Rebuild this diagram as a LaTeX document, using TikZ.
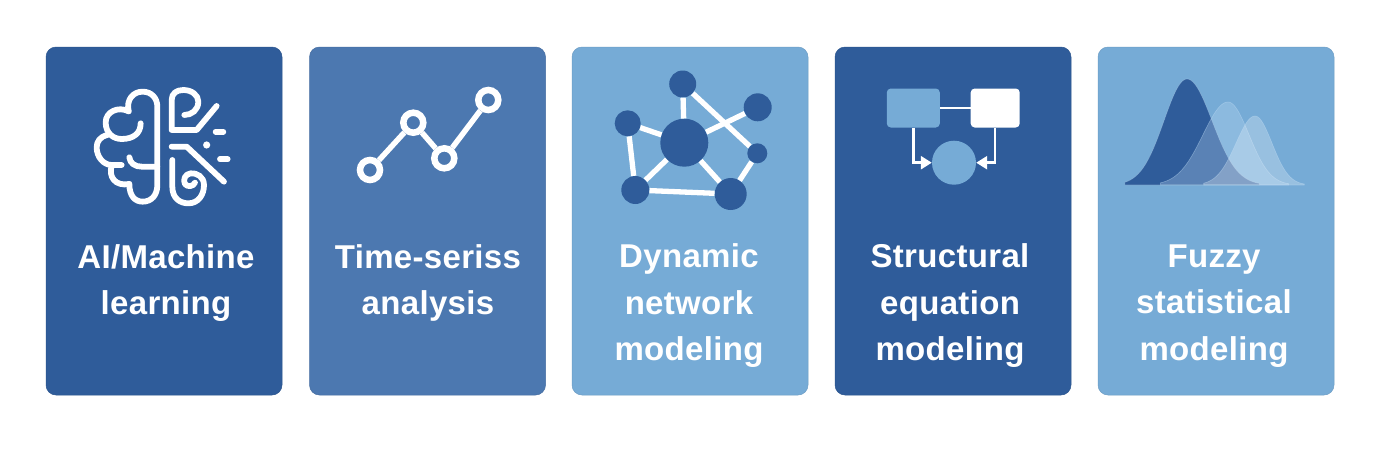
\documentclass[tikz,border=0pt]{standalone}
\usepackage{fontspec}
\setmainfont{Liberation Sans}[LetterSpace=1]
\usetikzlibrary{arrows.meta}
\definecolor{darkcard}{HTML}{2F5C9A}
\definecolor{midcard}{HTML}{4C78B0}
\definecolor{lightcard}{HTML}{76ABD6}
\definecolor{paleblue}{HTML}{C0DDF5}
\tikzstyle{card}=[rectangle,rounded corners=10pt,minimum width=236pt,minimum height=348pt,inner sep=0pt,draw=#1!92!black,line width=0.5pt,fill=#1]
\tikzstyle{label}=[text=white,align=center,font=\fontsize{33}{46.5}\selectfont\bfseries,inner sep=0pt]
\tikzstyle{brainline}=[draw=white,line width=5.8pt,line cap=round,line join=round]
\tikzstyle{ring}=[circle,draw=white,fill=midcard,line width=6.5pt,minimum size=20pt,inner sep=0pt]
\tikzstyle{chartedge}=[draw=white,line width=5.5pt]
\tikzstyle{netvertex}=[circle,fill=darkcard,inner sep=0pt]
\tikzstyle{netedge}=[draw=white,line width=5.3pt]
\tikzstyle{sembox}=[rectangle,rounded corners=4pt,minimum width=51pt,minimum height=39pt,inner sep=0pt]
\tikzstyle{semedge}=[draw=white,line width=2.5pt]

\begin{document}
\begin{tikzpicture}[x=1pt,y=-1pt]

    \useasboundingbox (0,0) rectangle (1382,453);
    \fill[white] (0,0) rectangle (1382,453);

    \foreach \x/\name/\col in {164/ai/darkcard, 427.5/time/midcard, 690/net/lightcard, 953/sem/darkcard, 1216/fuzzy/lightcard}
        \node[card=\col] (\name) at (\x,221) {};

    \foreach \x/\y/\name/\txt in {166/283/ailabel/{AI/Machine\\learning}, 428/283/timelabel/{Time-seriss\\analysis}, 689/306/netlabel/{Dynamic\\network\\modeling}, 950/306/semlabel/{Structural\\equation\\modeling}, 1214/306/fuzzylabel/{Fuzzy\\statistical\\modeling}}
        \node[label] (\name) at (\x,\y) {\txt};

    % brain
    \begin{scope}[shift={(70,70)},x=0.3333pt,y=-0.3333pt]
        \draw[brainline] (176,124) .. controls (168,88) and (190,65) .. (218,65) .. controls (245,65) and (262,85) .. (262,110) -- (262,345) .. controls (262,375) and (245,395) .. (218,395) .. controls (195,395) and (178,378) .. (178,342);
        \draw[brainline] (176,124) .. controls (145,108) and (107,125) .. (107,157) .. controls (107,190) and (130,207) .. (155,207) .. controls (190,207) and (212,190) .. (212,160);
        \draw[brainline] (112,195) .. controls (90,200) and (80,215) .. (80,232) .. controls (80,260) and (100,285) .. (125,285) -- (155,285);
        \draw[brainline] (125,287) .. controls (115,320) and (135,350) .. (178,342);
        \draw[brainline] (178,262) .. controls (180,280) and (195,290) .. (215,290) -- (262,290);
        \draw[brainline] (343,135) .. controls (365,135) and (385,120) .. (385,95) .. controls (385,75) and (365,60) .. (340,60) .. controls (320,60) and (305,70) .. (305,90) -- (305,180) -- (380,180) -- (440,108);
        \draw[brainline] (305,230) -- (350,230) -- (462,335);
        \draw[brainline] (307,270) -- (307,350) .. controls (307,385) and (330,400) .. (355,400) .. controls (385,400) and (402,375) .. (402,345) .. controls (402,320) and (380,308) .. (362,310) .. controls (345,312) and (338,330) .. (345,342) .. controls (352,352) and (370,350) .. (375,338);
        \draw[brainline] (437,185) -- (460,185);
        \fill[white] (410,225) circle (3.6pt);
        \draw[brainline] (450,268) -- (473,268);
    \end{scope}

    % line chart
    \foreach \x/\y/\name in {370/170/ta, 413.3/122.7/tb, 444.3/158.3/tc, 488.3/100/td}
        \node[ring] (\name) at (\x,\y) {};
    \foreach \source/\dest in {ta/tb, tb/tc, tc/td}
        \path[chartedge] (\source) -- (\dest);

    % network
    \foreach \x/\y/\r/\name in {682.7/84/27/ntop, 757.7/107.3/28/nright, 684.3/142.7/48/nhub, 627.7/123.3/26/nleft, 757.3/153.3/20/nsmall, 635.3/190/28/nbl, 730.7/194/32/nbr}
        \node[netvertex,minimum size=\r pt] (\name) at (\x,\y) {};
    \foreach \source/\dest in {ntop/nhub, ntop/nsmall, nright/nhub, nleft/nhub, nleft/nbl, nbl/nhub, nbr/nhub, nbl/nbr, nsmall/nbr}
        \path[netedge] (\source) -- (\dest);

    % path diagram
    \node[sembox,fill=lightcard,minimum width=53pt] (boxa) at (913.3,108) {};
    \node[sembox,fill=white,minimum width=49pt] (boxb) at (995.2,108) {};
    \node[circle,fill=lightcard,minimum size=44pt,inner sep=0pt] (circ) at (954,162.7) {};
    \path[semedge] (boxa) -- (boxb);
    \path[semedge,-{Triangle[length=11pt,width=13pt]}] (boxa) |- (circ);
    \path[semedge,-{Triangle[length=11pt,width=13pt]}] (boxb) |- (circ);

    % bell curves
    \foreach \peak/\amp/\sl/\sr/\col/\op in {1187/106/23/25/darkcard/1, 1228/83/25/21/paleblue/0.3, 1255/69/19/17/white/0.25}
        \path[fill=\col,fill opacity=\op,draw=paleblue,draw opacity=0.4,line width=0.6pt] ({\peak-2.7*\sl},185) -- plot[domain=\peak-2.7*\sl:\peak,samples=40,smooth] (\x,{185-\amp*exp(-(\x-\peak)*(\x-\peak)/(2*\sl*\sl))}) -- plot[domain=\peak:\peak+2.9*\sr,samples=40,smooth] (\x,{185-\amp*exp(-(\x-\peak)*(\x-\peak)/(2*\sr*\sr))}) -- ({\peak+2.9*\sr},185) -- cycle;

\end{tikzpicture}
\end{document}
